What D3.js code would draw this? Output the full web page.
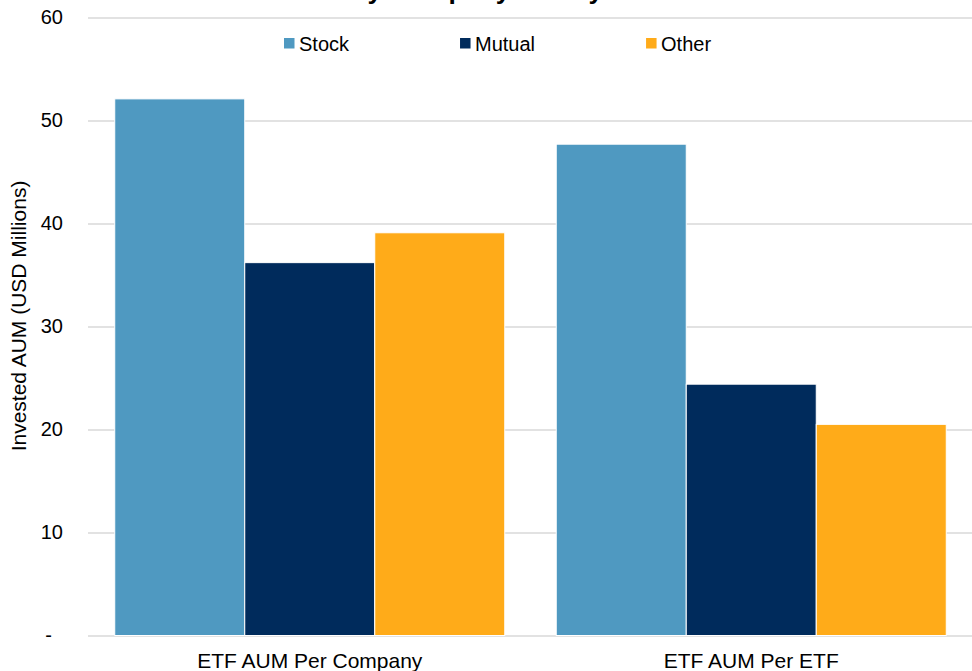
<!DOCTYPE html>
<html>
<head>
<meta charset="utf-8">
<script src="https://cdn.jsdelivr.net/npm/d3@7"></script>
<style>
  body { margin: 0; background: #fff; }
  svg { display: block; font-family: "Liberation Sans", Arial, sans-serif; }
  .grid line { stroke: #d9d9d9; stroke-width: 1.3; }
  .grid path { display: none; }
</style>
</head>
<body>
<div id="chart"></div>
<script>
// Chart data
const categories = ["ETF AUM Per Company", "ETF AUM Per ETF"];
const seriesNames = ["Stock", "Mutual", "Other"];
const stockValues = [52.1, 47.7];
const mutualValues = [36.2, 24.4];
const otherValues = [39.1, 20.5];
const yTicks = [0, 10, 20, 30, 40, 50, 60];
const chartTitle = "by Company and by ETF";   // only the bottom of it shows, as in the source
const yAxisTitle = "Invested AUM (USD Millions)";

const colors = { Stock: "#4f99c1", Mutual: "#002b5c", Other: "#ffab19" };

// Build rows for the grouped bars
const seriesValues = { Stock: stockValues, Mutual: mutualValues, Other: otherValues };
const rows = categories.map((c, i) => ({
    category: c,
    values: seriesNames.map(s => ({ key: s, value: seriesValues[s][i] }))
}));

// Dimensions
const chartWidth = 972;
const chartHeight = 671;
const margin = { top: 17.5, right: 0, bottom: 35.5, left: 89 };
const width = chartWidth - margin.left - margin.right;
const height = chartHeight - margin.top - margin.bottom;

const svg = d3.select("#chart")
    .append("svg")
    .attr("width", chartWidth)
    .attr("height", chartHeight);

const g = svg.append("g")
    .attr("transform", `translate(${margin.left}, ${margin.top})`);

// Scales
const x0 = d3.scaleBand()
    .domain(categories)
    .range([0, width])
    .paddingInner(0.1166)
    .paddingOuter(0.0583);

const x1 = d3.scaleBand()
    .domain(seriesNames)
    .range([0, x0.bandwidth()]);

const y = d3.scaleLinear()
    .domain([0, 60])
    .range([height, 0]);

// Gridlines
g.append("g")
    .attr("class", "grid")
    .call(d3.axisLeft(y).tickValues(yTicks).tickSize(-width).tickFormat(""))
    .call(sel => sel.selectAll("line").attr("x1", -1));

// Y tick labels
const yAxis = g.append("g")
    .attr("class", "y-axis")
    .call(d3.axisLeft(y).tickValues(yTicks).tickSize(0).tickPadding(26)
        .tickFormat(d => d === 0 ? "-" : d));
yAxis.select(".domain").remove();
yAxis.selectAll("text")
    .attr("font-size", 20)
    .attr("fill", "#000")
    .attr("font-family", "Liberation Sans, Arial, sans-serif")
    .attr("dx", d => d === 0 ? -11 : 0);

// Bars
const groups = g.selectAll(".group")
    .data(rows)
    .join("g")
    .attr("class", "group")
    .attr("transform", d => `translate(${x0(d.category)}, 0)`);

groups.selectAll("rect")
    .data(d => d.values)
    .join("rect")
    .attr("x", d => x1(d.key))
    .attr("y", d => y(d.value))
    .attr("width", x1.bandwidth())
    .attr("height", d => y(0) - y(d.value))
    .attr("fill", d => colors[d.key])
    .attr("stroke", "#fff")
    .attr("stroke-width", 1);

// X axis labels
const xAxis = g.append("g")
    .attr("class", "x-axis")
    .attr("transform", `translate(0, ${height})`)
    .call(d3.axisBottom(x0).tickSize(0).tickPadding(18));
xAxis.select(".domain").remove();
xAxis.selectAll("text")
    .attr("font-size", 21)
    .attr("fill", "#000")
    .attr("font-family", "Liberation Sans, Arial, sans-serif");

// Y axis title
svg.append("text")
    .attr("transform", "translate(26, 316) rotate(-90)")
    .attr("text-anchor", "middle")
    .attr("font-size", 21)
    .attr("fill", "#000")
    .text(yAxisTitle);

// Title (cropped at the top edge, as in the source image)
svg.append("text")
    .attr("x", 506)
    .attr("y", -1.5)
    .attr("text-anchor", "middle")
    .attr("font-size", 26.5)
    .attr("font-weight", "bold")
    .attr("fill", "#000")
    .text(chartTitle);

// Legend
const legend = svg.append("g").attr("class", "legend");
let lx = 284;
seriesNames.forEach(name => {
    const item = legend.append("g").attr("transform", `translate(${lx}, 0)`);
    item.append("rect")
        .attr("x", 0)
        .attr("y", 38)
        .attr("width", 10.5)
        .attr("height", 10.5)
        .attr("fill", colors[name]);
    const t = item.append("text")
        .attr("x", 15)
        .attr("y", 50.5)
        .attr("font-size", 20)
        .attr("fill", "#000")
        .text(name);
    lx += 15 + t.node().getComputedTextLength() + 111;
});
</script>
</body>
</html>
